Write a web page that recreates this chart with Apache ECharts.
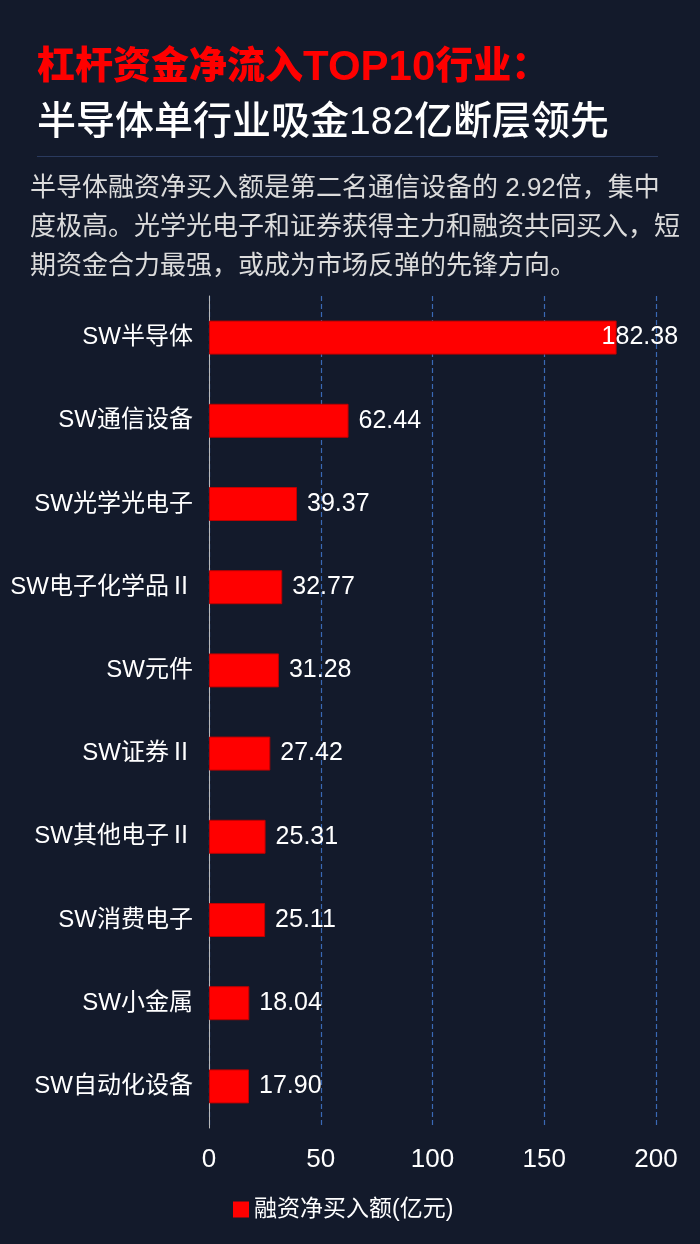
<!DOCTYPE html>
<html>
<head>
<meta charset="utf-8">
<script src="https://cdn.jsdelivr.net/npm/echarts@6/dist/echarts.min.js"></script>
<style>
  html, body { margin: 0; padding: 0; background: #131a2b; }
  #chart { width: 700px; height: 1244px; }
</style>
</head>
<body>
<div id="chart"></div>
<script>
const industries = ['SW半导体', 'SW通信设备', 'SW光学光电子', 'SW电子化学品Ⅱ', 'SW元件',
    'SW证券Ⅱ', 'SW其他电子Ⅱ', 'SW消费电子', 'SW小金属', 'SW自动化设备'];
const netBuy = [182.38, 62.44, 39.37, 32.77, 31.28, 27.42, 25.31, 25.11, 18.04, 17.90];
const xTicks = { min: 0, max: 200, interval: 50 };
const seriesName = '融资净买入额(亿元)';

const titleMain = ['杠杆资金净流入', 'TOP10', '行业：'];
const titleSub = '半导体单行业吸金182亿断层领先';
const summary = [
    '半导体融资净买入额是第二名通信设备的 2.92倍，集中',
    '度极高。光学光电子和证券获得主力和融资共同买入，短',
    '期资金合力最强，或成为市场反弹的先锋方向。'
];

const FONT = "'Liberation Sans', 'Noto Sans CJK SC', sans-serif";

const myChart = echarts.init(document.getElementById('chart'));

const option = {
    backgroundColor: '#131a2b',
    textStyle: { fontFamily: FONT },
    graphic: [
        {
            type: 'text', left: 37, top: 38,
            style: {
                text: '{c|' + titleMain[0] + '}{l|' + titleMain[1] + '}{c|' + titleMain[2] + '}',
                rich: {
                    c: { fill: '#ff0000', fontSize: 38, fontWeight: 900, lineHeight: 46, fontFamily: "'Noto Sans CJK SC', sans-serif" },
                    l: { fill: '#ff0000', fontSize: 42, fontWeight: 'bold', lineHeight: 46, padding: [9, 0, 0, 0], fontFamily: "'Liberation Sans', sans-serif" }
                }
            }
        },
        {
            type: 'text', left: 37, top: 104,
            style: { text: titleSub, fill: '#ffffff', font: "500 39px " + FONT }
        },
        {
            type: 'rect', shape: { x: 37, y: 156, width: 621, height: 1 },
            style: { fill: '#2a3a5e' }
        },
        ...summary.map((line, i) => ({
            type: 'text', left: 30, top: 176 + i * 39,
            style: { text: line, fill: '#dcdcdc', font: "26px " + FONT }
        }))
    ],
    legend: {
        data: [seriesName],
        left: 228,
        top: 1193,
        icon: 'rect',
        itemWidth: 16,
        itemHeight: 16,
        itemGap: 10,
        itemStyle: { borderWidth: 0 },
        textStyle: { color: '#ffffff', fontSize: 23, fontFamily: FONT }
    },
    grid: { left: 209, right: 44, top: 296, bottom: 116, containLabel: false },
    xAxis: {
        type: 'value',
        min: xTicks.min,
        max: xTicks.max,
        interval: xTicks.interval,
        axisLine: { show: false },
        axisTick: { show: false },
        axisLabel: { color: '#ffffff', fontSize: 26, margin: 19, fontFamily: FONT },
        splitLine: {
            show: true,
            lineStyle: { color: '#3a69b5', width: 1.2, type: [5, 3] }
        }
    },
    yAxis: {
        type: 'category',
        inverse: true,
        data: industries,
        axisLine: { show: true, lineStyle: { color: '#b8b8b8', width: 1 } },
        axisTick: { show: false },
        axisLabel: { color: '#ffffff', fontSize: 24, margin: 16, fontFamily: FONT }
    },
    series: [
        {
            name: seriesName,
            type: 'bar',
            barWidth: 34,
            itemStyle: { color: '#ff0000', borderColor: '#c00000', borderWidth: 1 },
            label: {
                show: true,
                position: 'right',
                distance: 10,
                color: '#ffffff',
                fontSize: 25,
                fontFamily: FONT,
                formatter: p => p.value.toFixed(2)
            },
            data: netBuy.map((v, i) => i === 0
                ? { value: v, label: { offset: [-25, 0] } }
                : v)
        }
    ]
};

myChart.setOption(option);
</script>
</body>
</html>
